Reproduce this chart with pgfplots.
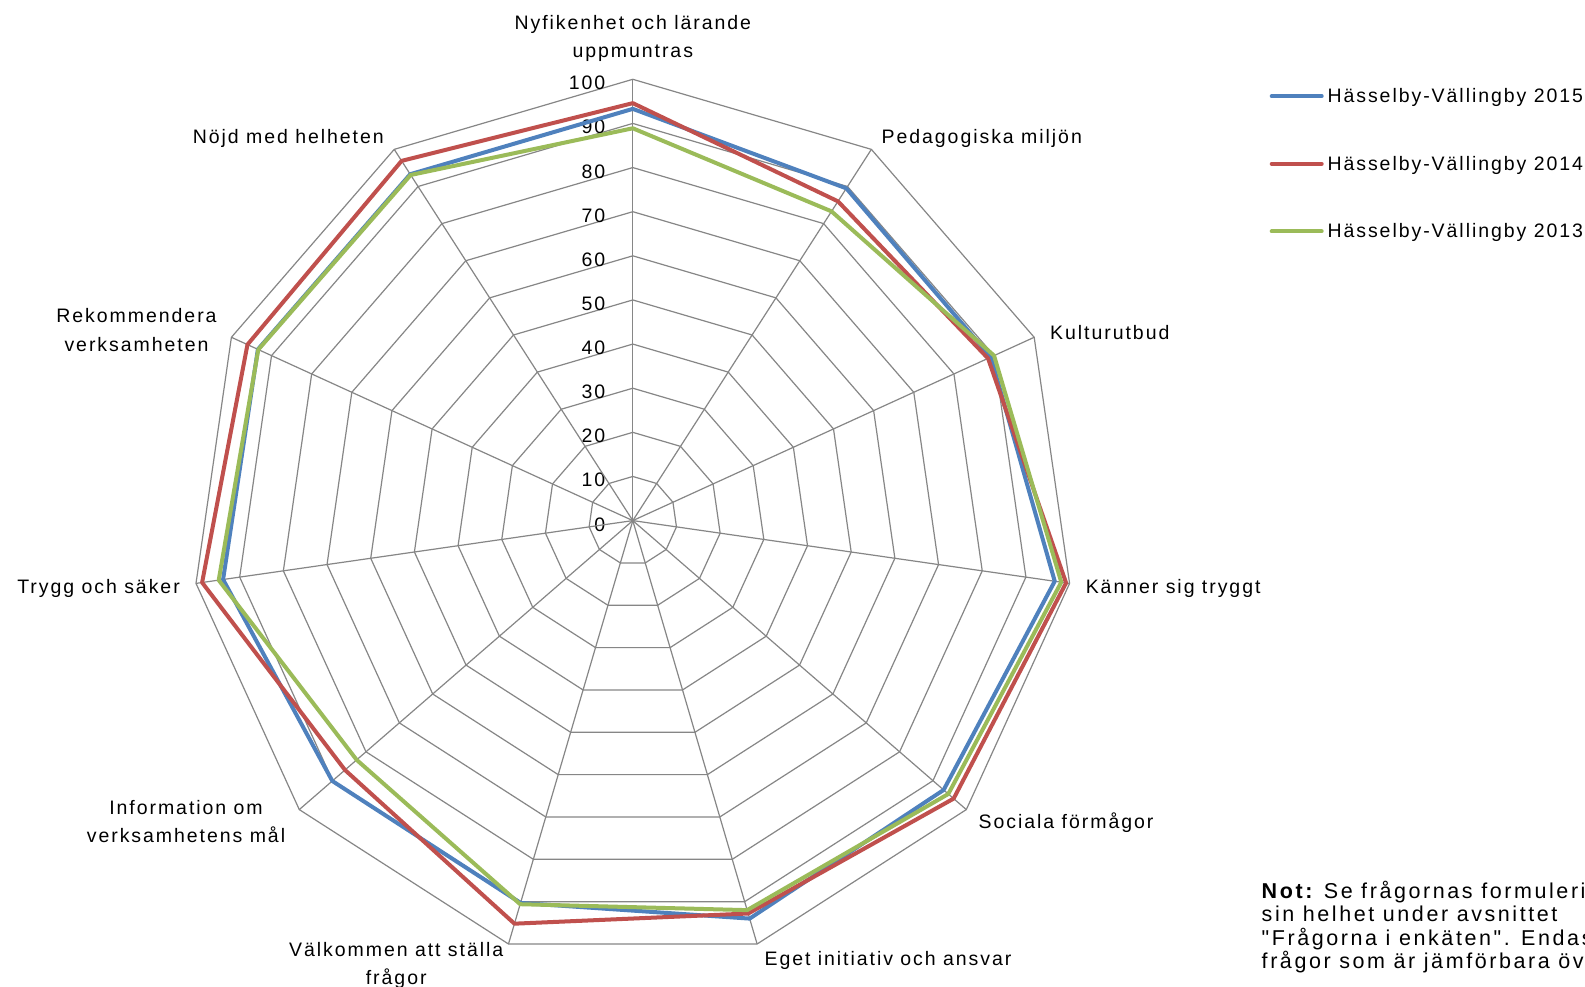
\documentclass[border=0pt]{standalone}
\usepackage{pgfplots}
\pgfplotsset{compat=1.18}
\usepgfplotslibrary{polar}
\usepackage{fontspec}
\newfontfamily\lbl[LetterSpace=10]{Liberation Sans}
\newfontfamily\nlbl[LetterSpace=12]{Liberation Sans}
\newcommand\lblfont{\lbl\fontsize{19.5pt}{28.3pt}\selectfont}
\newcommand\notefont{\nlbl\fontsize{21.5pt}{23.6pt}\selectfont}
\definecolor{c15}{RGB}{79,129,189}
\definecolor{c14}{RGB}{192,80,77}
\definecolor{c13}{RGB}{155,187,89}
\definecolor{gridc}{RGB}{134,134,134}
\begin{document}
\begin{tikzpicture}[x=1pt,y=1pt]
\useasboundingbox (0,0) rectangle (1585,986);
\fill[white] (0,0) rectangle (1585,986);
\clip (0,0) rectangle (1585,986);
\begin{polaraxis}[
  at={(632.8pt,465.4pt)}, anchor=origin,
  scale only axis, width=882.6pt, height=882.6pt,
  xmin=0, xmax=360, ymin=0, ymax=100,
  hide axis, clip=false,
]
% radar grid (polygons and spokes)
\pgfplotsinvokeforeach{10,20,30,40,50,60,70,80,90,100}{
  \draw[gridc, line width=1.2pt, line join=miter]
    (axis cs:90,#1) -- (axis cs:57.2727,#1) -- (axis cs:24.5455,#1) -- (axis cs:351.8182,#1)
    -- (axis cs:319.0909,#1) -- (axis cs:286.3636,#1) -- (axis cs:253.6364,#1) -- (axis cs:220.9091,#1)
    -- (axis cs:188.1818,#1) -- (axis cs:155.4545,#1) -- (axis cs:122.7273,#1) -- cycle;
  \node[anchor=east, inner sep=0pt, font=\lblfont, xshift=-27.3pt, yshift=-3.8pt] at (axis cs:90,#1) {#1};
}
\node[anchor=east, inner sep=0pt, font=\lblfont, xshift=-27.3pt, yshift=-3.8pt] at (axis cs:90,0) {0};
\pgfplotsinvokeforeach{90,57.2727,24.5455,351.8182,319.0909,286.3636,253.6364,220.9091,188.1818,155.4545,122.7273}{
  \draw[gridc, line width=1.2pt] (axis cs:0,0) -- (axis cs:#1,100);
}
% Hasselby-Vallingby 2015
\addplot[c15, line width=4pt, line join=round, line cap=round, mark=none] coordinates {
  (90,93.3) (57.2727,89.5) (24.5455,89.2) (351.8182,96.6) (319.0909,93.2) (286.3636,94.0)
  (253.6364,90.3) (220.9091,90.1) (188.1818,93.8) (155.4545,93.4) (122.7273,93.3) (90,93.3)
};
% 2014
\addplot[c14, line width=4pt, line join=round, line cap=round, mark=none] coordinates {
  (90,94.6) (57.2727,86.0) (24.5455,88.5) (351.8182,99.2) (319.0909,96.2) (286.3636,92.8)
  (253.6364,95.2) (220.9091,86.3) (188.1818,98.6) (155.4545,96.0) (122.7273,96.9) (90,94.6)
};
% 2013
\addplot[c13, line width=4pt, line join=round, line cap=round, mark=none] coordinates {
  (90,88.9) (57.2727,83.3) (24.5455,90.0) (351.8182,98.1) (319.0909,94.6) (286.3636,92.0)
  (253.6364,90.6) (220.9091,82.8) (188.1818,94.8) (155.4545,93.3) (122.7273,93.1) (90,88.9)
};
\end{polaraxis}
% category labels
\begin{scope}[every node/.style={font=\lblfont, inner sep=0pt}]
\node[align=center] at (632.8,947.6) {Nyfikenhet och lärande\\uppmuntras};
\node[anchor=west] at (881.4,847.5) {Pedagogiska miljön};
\node[anchor=west] at (1050,653.5) {Kulturutbud};
\node[anchor=west] at (1085.6,397.7) {Känner sig tryggt};
\node[anchor=west] at (978.5,163.2) {Sociala förmågor};
\node at (888,25.7) {Eget initiativ och ansvar};
\node[align=center] at (396.2,20.6) {Välkommen att ställa\\frågor};
\node[align=center] at (186,164.2) {Information om\\verksamhetens mål};
\node[anchor=east] at (180,397.7) {Trygg och säker};
\node[align=center] at (136.5,656) {Rekommendera\\verksamheten};
\node[anchor=east] at (384,847.5) {Nöjd med helheten};
% legend
\draw[c15, line width=4pt, line cap=round] (1271.7,889.8) -- (1321.7,889.8);
\node[anchor=west] at (1327.3,888.3) {Hässelby-Vällingby 2015};
\draw[c14, line width=4pt, line cap=round] (1271.7,822.2) -- (1321.7,822.2);
\node[anchor=west] at (1327.3,820.7) {Hässelby-Vällingby 2014};
\draw[c13, line width=4pt, line cap=round] (1271.7,754.6) -- (1321.7,754.6);
\node[anchor=west] at (1327.3,753.1) {Hässelby-Vällingby 2013};
% note
\node[anchor=north west, align=left, font=\notefont] at (1261.5,105.5)
  {{\bfseries Not:} Se frågornas formulering i\\sin helhet under avsnittet\\"Frågorna i enkäten". Endast\\frågor som är jämförbara över åren};
\end{scope}
\end{tikzpicture}
\end{document}
